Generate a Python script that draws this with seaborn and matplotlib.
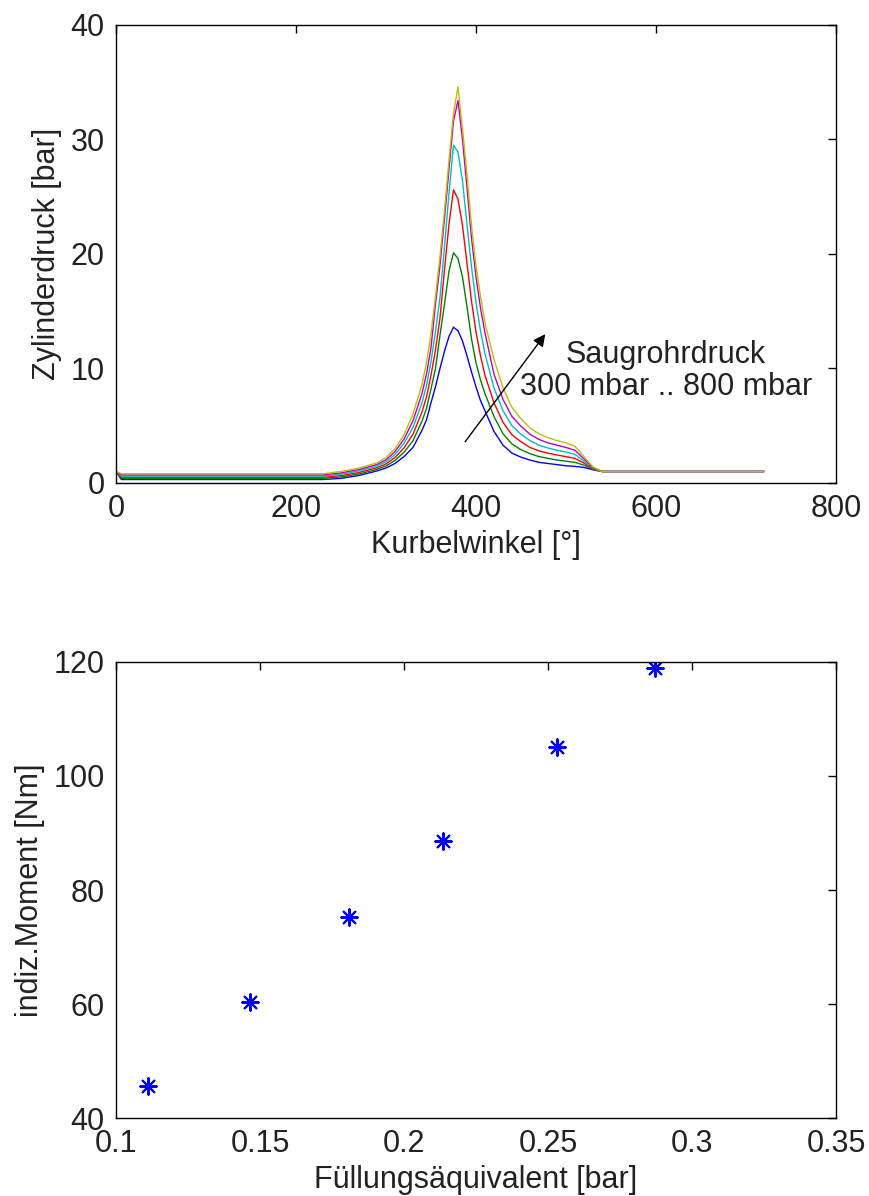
import numpy as np
import pandas as pd
import seaborn as sns
import matplotlib
matplotlib.use("Agg")
import matplotlib.pyplot as plt

# ---------------- data ----------------
angle = [0, 6, 230, 250, 270, 290, 300, 310, 320, 330, 340, 345, 350, 355, 360,
         365, 370, 375, 380, 385, 390, 395, 400, 405, 410, 420, 430, 440, 450,
         460, 470, 480, 490, 500, 510, 520, 530, 540, 720]

p_300 = [1.0, 0.3, 0.3, 0.4, 0.65, 1.05, 1.3, 1.7, 2.3, 3.1, 4.6, 5.5, 7.0, 8.4, 10.0,
         11.5, 12.8, 13.6, 13.3, 12.4, 11.1, 9.7, 8.4, 7.2, 6.3, 4.5, 3.3, 2.6, 2.25,
         2.0, 1.8, 1.7, 1.6, 1.5, 1.45, 1.35, 1.15, 1.0, 1.0]
p_400 = [1.0, 0.4, 0.4, 0.52, 0.78, 1.19, 1.48, 1.96, 2.68, 3.68, 5.4, 6.5, 8.2, 10.0, 12.9,
         15.6, 18.5, 20.1, 19.6, 18.0, 15.4, 12.6, 10.5, 9.0, 7.8, 5.8, 4.3, 3.4, 2.9,
         2.56, 2.3, 2.15, 2.0, 1.9, 1.8, 1.55, 1.2, 1.0, 1.0]
p_500 = [1.0, 0.5, 0.5, 0.64, 0.91, 1.33, 1.66, 2.22, 3.06, 4.26, 6.2, 7.5, 9.4, 11.6, 14.4,
         18.6, 22.6, 25.6, 24.8, 22.5, 19.2, 15.9, 13.2, 11.1, 9.4, 7.0, 5.3, 4.2, 3.6,
         3.1, 2.8, 2.6, 2.44, 2.3, 2.15, 1.73, 1.25, 1.0, 1.0]
p_600 = [1.0, 0.6, 0.6, 0.76, 1.04, 1.47, 1.84, 2.48, 3.46, 4.84, 7.0, 8.5, 10.6, 13.2, 16.2,
         20.6, 25.3, 29.5, 28.9, 26.4, 22.6, 18.9, 15.8, 13.3, 11.3, 8.3, 6.3, 5.0, 4.25,
         3.7, 3.3, 3.05, 2.86, 2.7, 2.5, 1.9, 1.3, 1.0, 1.0]
p_700 = [1.0, 0.7, 0.7, 0.88, 1.17, 1.61, 2.02, 2.74, 3.82, 5.42, 7.8, 9.5, 11.8, 15.6, 19.0,
         23.1, 27.4, 31.6, 33.4, 30.0, 25.8, 21.4, 18.0, 15.3, 13.1, 9.5, 7.3, 5.8, 4.95,
         4.25, 3.8, 3.5, 3.3, 3.1, 2.85, 2.1, 1.35, 1.0, 1.0]
p_800 = [1.0, 0.8, 0.8, 1.0, 1.3, 1.75, 2.2, 3.0, 4.2, 6.0, 8.6, 10.5, 13.0, 16.3, 19.8,
         23.8, 28.2, 32.3, 34.6, 31.0, 27.0, 22.5, 19.0, 16.3, 14.0, 10.8, 8.3, 6.6, 5.6,
         4.8, 4.3, 3.95, 3.7, 3.5, 3.2, 2.3, 1.4, 1.0, 1.0]

series_names = ["300 mbar", "400 mbar", "500 mbar", "600 mbar", "700 mbar", "800 mbar"]
series_values = [p_300, p_400, p_500, p_600, p_700, p_800]
line_colors = ["#0000ff", "#008000", "#ff0000", "#00bfbf", "#bf00bf", "#bfbf00"]

fuellung = [0.111, 0.1465, 0.181, 0.2135, 0.253, 0.287]
moment = [45.6, 60.4, 75.2, 88.6, 105.1, 119.0]

top_xticks = [0, 200, 400, 600, 800]
top_yticks = [0, 10, 20, 30, 40]
bot_xticks = [0.1, 0.15, 0.2, 0.25, 0.3, 0.35]
bot_xticklabels = ["0.1", "0.15", "0.2", "0.25", "0.3", "0.35"]
bot_yticks = [40, 60, 80, 100, 120]

# ---------------- style ----------------
sns.set_theme(style="white")
plt.rcParams["font.family"] = ["Liberation Sans", "DejaVu Sans"]
plt.rcParams["axes.edgecolor"] = "black"
plt.rcParams["axes.linewidth"] = 1.0
FS = 22

fig = plt.figure(figsize=(8.70, 11.96), dpi=100)
ax1 = fig.add_axes([0.1333, 0.5962, 0.8276, 0.3829])
ax2 = fig.add_axes([0.1333, 0.0652, 0.8276, 0.3813])

# ---------------- top: cylinder pressure ----------------
rows = []
for name, vals in zip(series_names, series_values):
    for a, v in zip(angle, vals):
        rows.append((name, a, v))
df = pd.DataFrame(rows, columns=["series", "angle", "p"])
sns.lineplot(data=df, x="angle", y="p", hue="series", hue_order=series_names,
             palette=line_colors, sort=False, estimator=None, linewidth=1.0,
             legend=False, ax=ax1)

ax1.set_xlim(0, 800)
ax1.set_ylim(0, 40)
ax1.set_xticks(top_xticks)
ax1.set_yticks(top_yticks)
ax1.set_xlabel("Kurbelwinkel [°]", fontsize=FS, color="#222222")
ax1.set_ylabel("Zylinderdruck [bar]", fontsize=FS, color="#222222")

ax1.annotate("", xy=(477, 13.0), xytext=(388, 3.6),
             arrowprops=dict(arrowstyle="-|>", color="black", lw=1.0,
                             mutation_scale=18, shrinkA=0, shrinkB=0))
ax1.text(611, 9.8, "Saugrohrdruck\n300 mbar .. 800 mbar", ha="center", va="center",
         multialignment="center", fontsize=FS, color="#222222", linespacing=1.1)

# ---------------- bottom: indicated torque ----------------
dfp = pd.DataFrame({"f": fuellung, "m": moment})
sns.scatterplot(data=dfp, x="f", y="m", marker=(8, 2, 0), s=140, color="#0000ff",
                edgecolor="#0000ff", linewidth=1.5, ax=ax2)
ax2.set_xlim(0.1, 0.35)
ax2.set_ylim(40, 120)
ax2.set_xticks(bot_xticks)
ax2.set_xticklabels(bot_xticklabels)
ax2.set_yticks(bot_yticks)
ax2.set_xlabel("Füllungsäquivalent [bar]", fontsize=FS, color="#222222")
ax2.set_ylabel("indiz.Moment [Nm]", fontsize=FS, color="#222222")

for ax in (ax1, ax2):
    for s in ax.spines.values():
        s.set_visible(True)
        s.set_color("black")
        s.set_linewidth(1.0)
    ax.tick_params(direction="in", top=True, right=True, length=6, width=1.0,
                   labelsize=FS, labelcolor="#222222", pad=8, color="black")
    ax.grid(False)
    ax.set_facecolor("white")

ax1.xaxis.labelpad = 4
ax2.xaxis.labelpad = 4
ax1.yaxis.labelpad = 6
ax2.yaxis.labelpad = 6

fig.savefig("out.png", dpi=100, facecolor="white")
